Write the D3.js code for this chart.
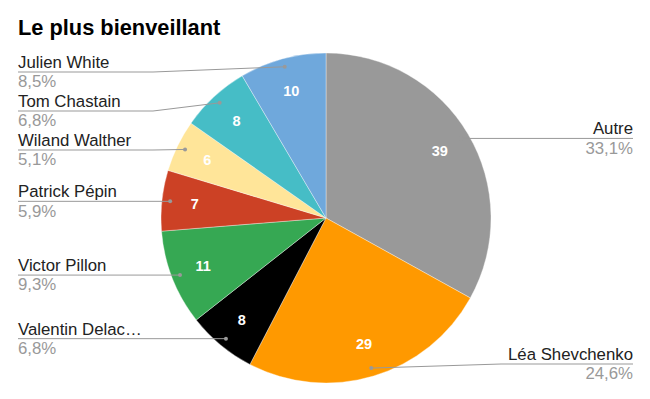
<!DOCTYPE html>
<html>
<head>
<meta charset="utf-8">
<script src="https://cdn.jsdelivr.net/npm/d3@7"></script>
<style>
  body { margin: 0; background: #fff; }
  svg { display: block; font-family: "Liberation Sans", Arial, sans-serif; }
</style>
</head>
<body>
<svg id="chart"></svg>
<script>
const names = ["Autre", "Léa Shevchenko", "Valentin Delac…", "Victor Pillon", "Patrick Pépin", "Wiland Walther", "Tom Chastain", "Julien White"];
const values = [39, 29, 8, 11, 7, 6, 8, 10];
const colors = ["#999999", "#ff9900", "#000000", "#36a853", "#cc4125", "#ffe599", "#46bdc6", "#6fa8dc"];
const title = "Le plus bienveillant";

const width = 650, height = 399;
const cx = 326, cy = 218, radius = 165;

const svg = d3.select("#chart").attr("width", width).attr("height", height);

svg.append("text")
  .attr("x", 18).attr("y", 35)
  .attr("font-size", 21.8).attr("font-weight", "bold").attr("fill", "#000")
  .text(title);

const total = d3.sum(values);
const data = names.map((n, i) => ({ name: n, value: values[i], color: colors[i] }));

const pie = d3.pie().value(d => d.value).sort(null);
const arcs = pie(data);
const arc = d3.arc().innerRadius(0).outerRadius(radius);
const labelArc = d3.arc().innerRadius(radius * 0.8).outerRadius(radius * 0.8);
const dotArc = d3.arc().innerRadius(radius * 0.95).outerRadius(radius * 0.95);

const g = svg.append("g").attr("transform", `translate(${cx},${cy})`);

g.selectAll("path")
  .data(arcs)
  .join("path")
  .attr("d", arc)
  .attr("fill", d => d.data.color)
  .attr("stroke", "#fff").attr("stroke-width", 0.6).attr("stroke-opacity", 0.6);

g.selectAll("text.val")
  .data(arcs)
  .join("text")
  .attr("class", "val")
  .attr("transform", d => `translate(${labelArc.centroid(d)})`)
  .attr("text-anchor", "middle").attr("dy", "0.35em")
  .attr("font-size", 14.5).attr("font-weight", "bold").attr("fill", "#fff")
  .text(d => d.data.value);

// leader lines + outside labels
const fmt = v => (v / total * 100).toFixed(1).replace(".", ",") + "%";
const pts = arcs.map(d => {
  const c = dotArc.centroid(d);
  return { d, x: cx + c[0], y: cy + c[1], right: c[0] > 0 };
});

// resolve overlaps on each side
const gap = 39;
const left = pts.filter(p => !p.right).sort((a, b) => a.y - b.y);
let prev = 72 - gap;
left.forEach(p => { p.ly = Math.max(p.y, prev + gap); prev = p.ly; });
const right = pts.filter(p => p.right).sort((a, b) => a.y - b.y);
prev = 72 - gap;
right.forEach(p => { p.ly = Math.min(Math.max(p.y, prev + gap), 364); prev = p.ly; });

const lab = svg.append("g");
pts.forEach(p => {
  const kneeX = p.right ? cx + radius + 10 : cx - radius - 8;
  const endX = p.right ? 633 : 18;
  lab.append("path")
    .attr("d", d3.line()([[p.x, p.y], [kneeX, p.ly], [endX, p.ly]]))
    .attr("fill", "none").attr("stroke", "#999").attr("stroke-width", 1);
  lab.append("circle")
    .attr("cx", p.x).attr("cy", p.y).attr("r", 2).attr("fill", "#999");
  const anchor = p.right ? "end" : "start";
  lab.append("text")
    .attr("x", endX).attr("y", p.ly - 4)
    .attr("text-anchor", anchor).attr("font-size", 16.8).attr("fill", "#222")
    .text(p.d.data.name);
  lab.append("text")
    .attr("x", endX).attr("y", p.ly + 15.3)
    .attr("text-anchor", anchor).attr("font-size", 16.8).attr("fill", "#999")
    .text(fmt(p.d.data.value));
});
</script>
</body>
</html>
